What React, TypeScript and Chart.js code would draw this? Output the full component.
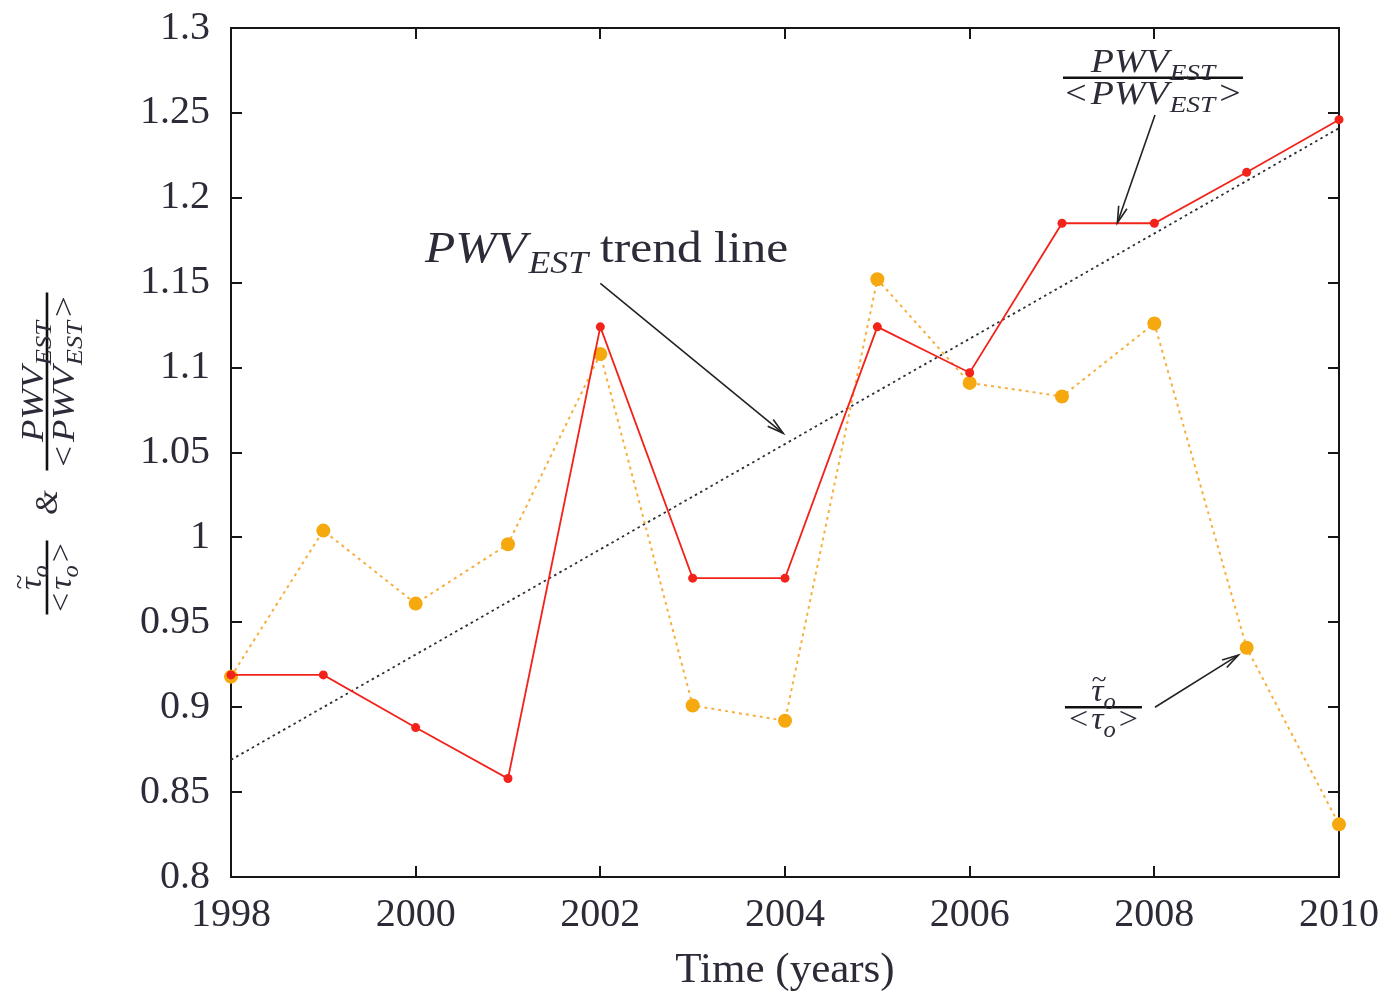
import React, { useEffect, useRef } from "react";
import { Chart, registerables } from "chart.js";

Chart.register(...registerables);

// ---------- data ----------
const years = [1998, 1999, 2000, 2001, 2002, 2003, 2004, 2005, 2006, 2007, 2008, 2009, 2010];
const pwvRatio = [0.919, 0.919, 0.888, 0.858, 1.124, 0.976, 0.976, 1.124, 1.097, 1.185, 1.185, 1.215, 1.246];
const tauRatio = [0.918, 1.004, 0.961, 0.996, 1.108, 0.901, 0.892, 1.152, 1.091, 1.083, 1.126, 0.935, 0.831];
const trendYears = [1998, 2010];
const trendValues = [0.869, 1.241];
const xTickValues = [1998, 2000, 2002, 2004, 2006, 2008, 2010];
const xTickLabels = ["1998", "2000", "2002", "2004", "2006", "2008", "2010"];
const yTickValues = [0.8, 0.85, 0.9, 0.95, 1.0, 1.05, 1.1, 1.15, 1.2, 1.25, 1.3];
const yTickLabels = ["0.8", "0.85", "0.9", "0.95", "1", "1.05", "1.1", "1.15", "1.2", "1.25", "1.3"];
const xAxisTitle = "Time (years)";

// annotation anchors, in data units [year, value]
const trendLabelAt = [2000.1, 1.162];
const trendArrow = [[2002.0, 1.1496], [2003.98, 1.0613]];
const pwvLabelAt = [2007.985, 1.2707];
const pwvArrow = [[2008.007, 1.2488], [2007.6, 1.1853]];
const tauLabelAt = [2007.449, 0.9];
const tauArrow = [[2008.007, 0.9], [2008.91, 0.9307]];

const FAMILY = '"Liberation Serif", "DejaVu Serif", serif';
const TEXT = "#2c2c38";
const RED = "#f2231a";
const ORANGE = "#f6a80f";
const ORANGE_LINE = "#f5b040";
const TREND = "#2b2f36";

type Run = { t: string; it?: boolean; sub?: boolean; dx?: number; tilde?: boolean };

function setRunFont(ctx: CanvasRenderingContext2D, r: Run, size: number) {
  const s = r.sub ? size * 0.72 : size;
  ctx.font = `${r.it ? "italic " : ""}${s}px ${FAMILY}`;
}
function runsWidth(ctx: CanvasRenderingContext2D, runs: Run[], size: number, sx: number) {
  let w = 0;
  for (const r of runs) {
    setRunFont(ctx, r, size);
    w += ctx.measureText(r.t).width * sx + (r.dx || 0);
  }
  return w;
}
function drawRuns(
  ctx: CanvasRenderingContext2D, runs: Run[], x: number, y: number, size: number,
  align: "left" | "center", sx = 1.1
) {
  let cx = align === "center" ? x - runsWidth(ctx, runs, size, sx) / 2 : x;
  ctx.textAlign = "left";
  ctx.textBaseline = "alphabetic";
  for (const r of runs) {
    setRunFont(ctx, r, size);
    const w = ctx.measureText(r.t).width;
    const yy = r.sub ? y + size * 0.24 : y;
    ctx.save();
    ctx.translate(cx, yy);
    ctx.scale(sx, 1);
    ctx.fillText(r.t, 0, 0);
    if (r.tilde) {
      ctx.font = `${size * 0.8}px ${FAMILY}`;
      const tw = ctx.measureText("~").width;
      ctx.fillText("~", w / 2 - tw / 2 + size * 0.05, -size * 0.45);
    }
    ctx.restore();
    cx += w * sx + (r.dx || 0);
  }
}
function drawFraction(
  ctx: CanvasRenderingContext2D, num: Run[], den: Run[], cx: number, barY: number,
  size: number, barLen: number, numGap: number, denGap: number, sx: number
) {
  ctx.save();
  ctx.strokeStyle = "#111";
  ctx.lineWidth = 2.6;
  ctx.beginPath();
  ctx.moveTo(cx - barLen / 2, barY);
  ctx.lineTo(cx + barLen / 2, barY);
  ctx.stroke();
  ctx.fillStyle = TEXT;
  drawRuns(ctx, num, cx, barY - numGap, size, "center", sx);
  drawRuns(ctx, den, cx, barY + denGap, size, "center", sx);
  ctx.restore();
}
function drawArrow(ctx: CanvasRenderingContext2D, x1: number, y1: number, x2: number, y2: number) {
  ctx.save();
  ctx.strokeStyle = "#222";
  ctx.lineWidth = 1.6;
  ctx.beginPath();
  ctx.moveTo(x1, y1);
  ctx.lineTo(x2, y2);
  ctx.stroke();
  const a = Math.atan2(y2 - y1, x2 - x1);
  const L = 17, w = 0.26;
  ctx.beginPath();
  ctx.moveTo(x2 - L * Math.cos(a - w), y2 - L * Math.sin(a - w));
  ctx.lineTo(x2, y2);
  ctx.lineTo(x2 - L * Math.cos(a + w), y2 - L * Math.sin(a + w));
  ctx.stroke();
  ctx.restore();
}

const pwvNum: Run[] = [{ t: "PWV", it: true, dx: 1 }, { t: "EST", it: true, sub: true }];
const pwvDen: Run[] = [
  { t: "<", dx: 4 }, { t: "PWV", it: true, dx: 1 }, { t: "EST", it: true, sub: true, dx: 4 }, { t: ">" },
];
const tauNum: Run[] = [{ t: "τ", it: true, tilde: true }, { t: "o", it: true, sub: true }];
const tauDen: Run[] = [{ t: "<", dx: 3 }, { t: "τ", it: true }, { t: "o", it: true, sub: true, dx: 3 }, { t: ">" }];

const framePlugin = {
  id: "frame",
  beforeDatasetsDraw(chart: any) {
    const { ctx, chartArea: { left, right, top, bottom }, scales: { x, y } } = chart;
    ctx.save();
    ctx.strokeStyle = "#161616";
    ctx.lineWidth = 2;
    ctx.strokeRect(left, top, right - left, bottom - top);
    const tl = 11;
    ctx.beginPath();
    for (const v of yTickValues) {
      const py = Math.round(y.getPixelForValue(v));
      ctx.moveTo(left, py); ctx.lineTo(left + tl, py);
      ctx.moveTo(right, py); ctx.lineTo(right - tl, py);
    }
    for (const v of xTickValues) {
      const px = Math.round(x.getPixelForValue(v));
      ctx.moveTo(px, bottom); ctx.lineTo(px, bottom - tl);
      ctx.moveTo(px, top); ctx.lineTo(px, top + tl);
    }
    ctx.stroke();
    ctx.restore();
  },
};

const annotationPlugin = {
  id: "annotations",
  afterDatasetsDraw(chart: any) {
    const { ctx, scales: { x, y }, chartArea } = chart;
    const P = (p: number[]) => [x.getPixelForValue(p[0]), y.getPixelForValue(p[1])];
    ctx.save();
    ctx.fillStyle = TEXT;
    // trend label
    const [tx, ty] = P(trendLabelAt);
    drawRuns(ctx, [{ t: "PWV", it: true, dx: 2 }, { t: "EST", it: true, sub: true, dx: 12 }, { t: "trend line" }], tx, ty, 45, "left", 1.1);
    const [a1, a2] = [P(trendArrow[0]), P(trendArrow[1])];
    drawArrow(ctx, a1[0], a1[1], a2[0], a2[1]);
    // PWV fraction
    const [fx, fy] = P(pwvLabelAt);
    drawFraction(ctx, pwvNum, pwvDen, fx, fy, 33, 180, 6, 26, 1.15);
    const [b1, b2] = [P(pwvArrow[0]), P(pwvArrow[1])];
    drawArrow(ctx, b1[0], b1[1], b2[0], b2[1]);
    // tau fraction
    const [gx, gy] = P(tauLabelAt);
    drawFraction(ctx, tauNum, tauDen, gx, gy, 31, 77, 6, 22, 1.1);
    const [c1, c2] = [P(tauArrow[0]), P(tauArrow[1])];
    drawArrow(ctx, c1[0], c1[1], c2[0], c2[1]);
    // y axis title (rotated)
    const midY = (chartArea.top + chartArea.bottom) / 2;
    ctx.translate(47, midY);
    ctx.rotate(-Math.PI / 2);
    drawFraction(ctx, pwvNum, pwvDen, 71, 0, 32, 178, 4, 27, 1.15);
    ctx.fillStyle = TEXT;
    ctx.font = `italic 32px ${FAMILY}`;
    ctx.textAlign = "center";
    ctx.textBaseline = "middle";
    ctx.fillText("&", -50, 2);
    drawFraction(ctx, tauNum, tauDen, -125, 0, 31, 74, 6, 24, 1.1);
    ctx.restore();
  },
};

export default function App() {
  const ref = useRef<HTMLCanvasElement | null>(null);
  useEffect(() => {
    document.body.style.margin = "0";
    const canvas = ref.current!;
    const chart = new Chart(canvas, {
      type: "line",
      data: {
        datasets: [
          {
            label: "PWV",
            data: years.map((yr, i) => ({ x: yr, y: pwvRatio[i] })),
            borderColor: RED,
            backgroundColor: RED,
            borderWidth: 1.8,
            pointRadius: 4.5,
            pointBorderWidth: 0,
            pointBackgroundColor: RED,
            clip: false as any,
            order: 1,
          },
          {
            label: "tau",
            data: years.map((yr, i) => ({ x: yr, y: tauRatio[i] })),
            borderColor: ORANGE_LINE,
            backgroundColor: ORANGE,
            borderWidth: 2,
            borderDash: [3, 4],
            pointRadius: 7,
            pointBorderWidth: 0,
            pointBackgroundColor: ORANGE,
            clip: false as any,
            order: 2,
          },
          {
            label: "trend",
            data: trendYears.map((yr, i) => ({ x: yr, y: trendValues[i] })),
            borderColor: TREND,
            borderWidth: 1.8,
            borderDash: [2.5, 3.5],
            pointRadius: 0,
            clip: false as any,
            order: 3,
          },
        ],
      },
      options: {
        animation: false,
        responsive: false,
        devicePixelRatio: 1,
        layout: { padding: { top: 28, right: 54, left: 0, bottom: 0 } },
        plugins: { legend: { display: false }, tooltip: { enabled: false } },
        elements: { line: { tension: 0 } },
        scales: {
          x: {
            type: "linear",
            min: 1998,
            max: 2010,
            afterBuildTicks: (s: any) => { s.ticks = xTickValues.map((v) => ({ value: v })); },
            afterFit: (s: any) => { s.height = 121; s.paddingLeft = 0; s.paddingRight = 0; },
            grid: { display: false, drawTicks: false },
            border: { display: false },
            ticks: {
              autoSkip: false,
              maxRotation: 0,
              padding: 14,
              color: TEXT,
              font: { family: FAMILY, size: 40 },
              callback: (_v: any, i: number) => xTickLabels[i],
            },
            title: {
              display: true,
              text: xAxisTitle,
              color: TEXT,
              font: { family: FAMILY, size: 43 },
              padding: { top: 0, bottom: 1 },
            },
          },
          y: {
            type: "linear",
            min: 0.8,
            max: 1.3,
            afterBuildTicks: (s: any) => { s.ticks = yTickValues.map((v) => ({ value: v })); },
            afterFit: (s: any) => { s.width = 231; s.paddingTop = 0; s.paddingBottom = 0; },
            grid: { display: false, drawTicks: false },
            border: { display: false },
            ticks: {
              autoSkip: false,
              padding: 21,
              color: TEXT,
              font: { family: FAMILY, size: 40 },
              callback: (_v: any, i: number) => yTickLabels[i],
            },
          },
        },
      },
      plugins: [framePlugin, annotationPlugin],
    });
    return () => chart.destroy();
  }, []);
  return (
    <div style={{ width: 1393, height: 998, background: "#fff" }}>
      <canvas ref={ref} width={1393} height={998} style={{ display: "block" }} />
    </div>
  );
}
